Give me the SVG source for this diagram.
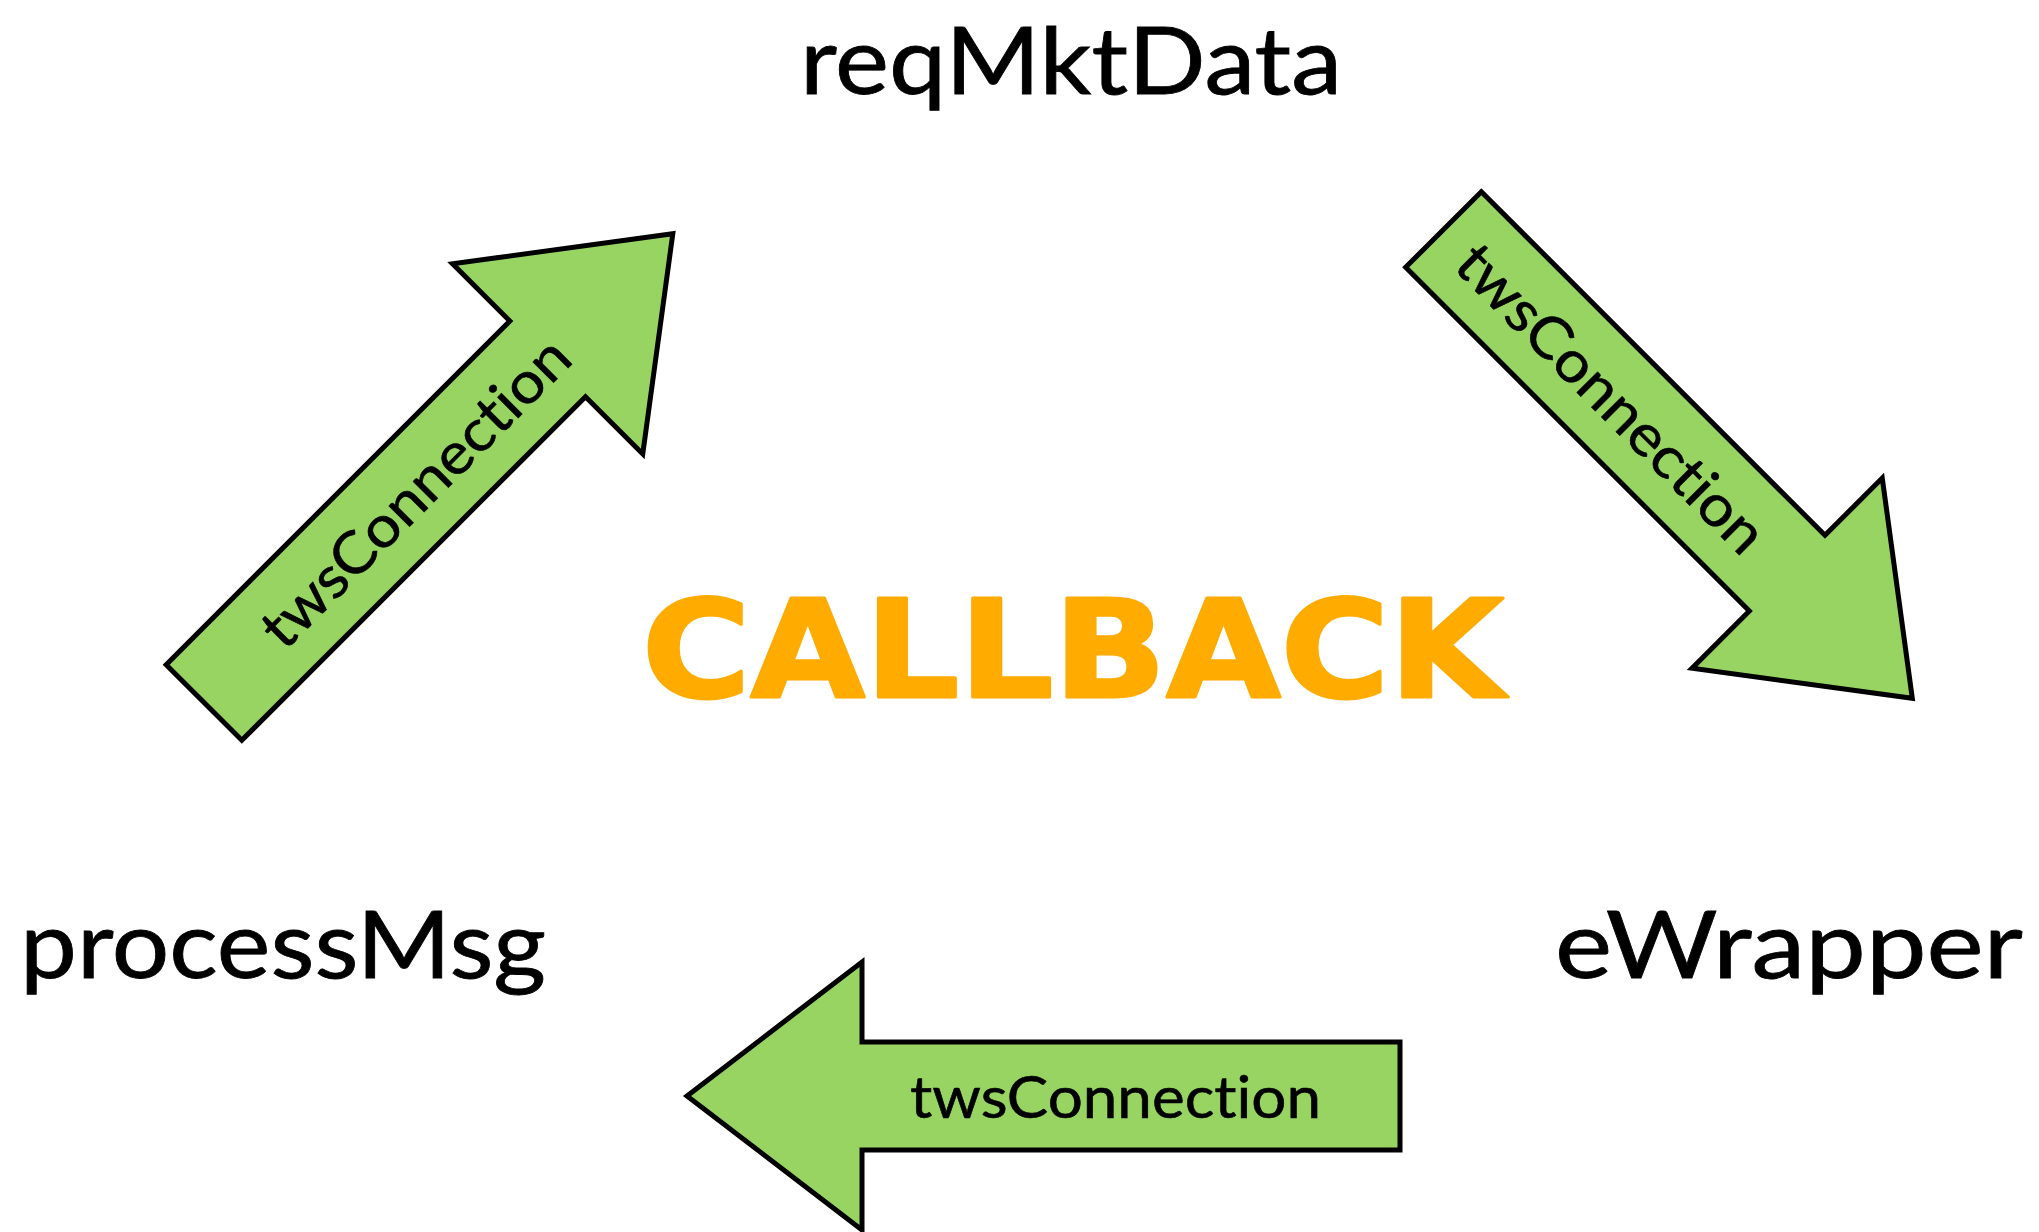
<svg xmlns="http://www.w3.org/2000/svg" width="2039" height="1232" viewBox="0 0 2039 1232">
  <style>
    .bg { fill: #ffffff; }
    .node-label { font-family: Lato, "Open Sans", "Liberation Sans", sans-serif; font-size: 94px; fill: #000000; stroke: #000000; stroke-width: 0.8; font-variant-ligatures: none; }
    .arrow { fill: #98D462; stroke: #000000; stroke-width: 5; stroke-linejoin: miter; }
    .arrow-label { font-family: Lato, "Open Sans", "Liberation Sans", sans-serif; font-size: 58px; fill: #000000; stroke: #000000; stroke-width: 0.6; text-anchor: middle; font-variant-ligatures: none; }
    .title { font-family: "DejaVu Sans", "Liberation Sans", sans-serif; font-weight: bold; font-size: 135px; fill: #FFAB00; stroke: #FFAB00; stroke-width: 3; stroke-linejoin: round; }
  </style>
  <defs>
    <!-- block arrow along +x, tail centred on the origin -->
    <path id="diagArrow" d="M0,-53.5 L486,-53.5 L486,-134.5 L663,0 L486,134.5 L486,53.5 L0,53.5 Z"/>
  </defs>

  <rect class="bg" x="0" y="0" width="2039" height="1232"/>

  <g id="reqMktData">
    <text class="node-label" x="800" y="94" textLength="542" lengthAdjust="spacingAndGlyphs">reqMktData</text>
  </g>

  <g id="processMsg">
    <text class="node-label" x="20" y="978" textLength="526" lengthAdjust="spacingAndGlyphs">processMsg</text>
  </g>

  <g id="eWrapper">
    <text class="node-label" x="1555" y="978" textLength="468" lengthAdjust="spacingAndGlyphs">eWrapper</text>
  </g>

  <g id="callback">
    <text class="title" x="642" y="697" textLength="862" lengthAdjust="spacingAndGlyphs">CALLBACK</text>
  </g>

  <g id="connectors">
    <!-- processMsg -> reqMktData -->
    <g transform="translate(204,702.5) rotate(-45)">
      <use href="#diagArrow" class="arrow"/>
      <text class="arrow-label" x="298" y="21" textLength="411" lengthAdjust="spacingAndGlyphs">twsConnection</text>
    </g>
    <!-- reqMktData -> eWrapper -->
    <g transform="translate(1443.5,229.5) rotate(45)">
      <use href="#diagArrow" class="arrow"/>
      <text class="arrow-label" x="238" y="21" textLength="411" lengthAdjust="spacingAndGlyphs">twsConnection</text>
    </g>
    <!-- eWrapper -> processMsg -->
    <g>
      <path class="arrow" d="M1400,1042 L862,1042 L862,962 L687,1096 L862,1230 L862,1150 L1400,1150 Z"/>
      <text class="arrow-label" x="1115.5" y="1118" textLength="411" lengthAdjust="spacingAndGlyphs">twsConnection</text>
    </g>
  </g>
</svg>
